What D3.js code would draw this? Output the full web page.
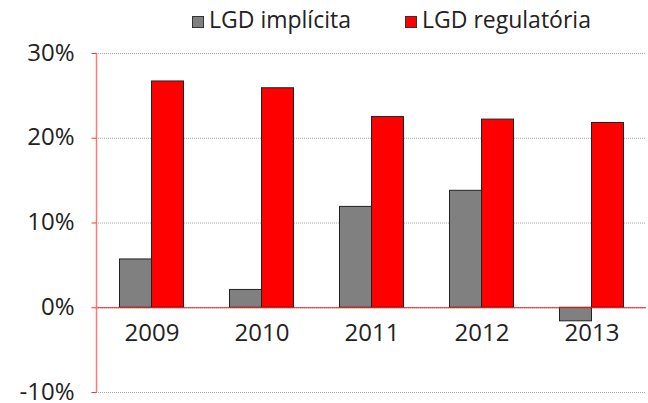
<!DOCTYPE html>
<html><head><meta charset="utf-8">
<script src="https://cdn.jsdelivr.net/npm/d3@7"></script>
<style>body{margin:0;background:#fff}svg{display:block}text{font-family:"Open Sans",sans-serif;fill:#222}</style>
</head><body><svg id="c" width="648" height="403"></svg>
<script>
const categories=["2009","2010","2011","2012","2013"];
const lgdImplicita=[5.7,2.1,11.9,13.8,-1.6];
const lgdRegulatoria=[26.7,25.9,22.5,22.2,21.8];
const seriesNames=["LGD implícita","LGD regulatória"];
const seriesColors=["#808080","#ff0000"];
const yTicks=[-10,0,10,20,30];

const svg=d3.select("#c");
const x0=96,x1=646;
const y=d3.scaleLinear().domain([-10,30]).range([392,53]);
const x=d3.scaleBand().domain(categories).range([x0,x1]);
const barW=32;

// gridlines
svg.append("g").selectAll("line").data(yTicks).join("line")
 .attr("x1",x0).attr("x2",x1).attr("y1",d=>y(d)+0.5).attr("y2",d=>y(d)+0.5)
 .attr("stroke","#aaa").attr("stroke-width",1).attr("stroke-dasharray","1,1");

const data=categories.map((c,i)=>({c,v:[lgdImplicita[i],lgdRegulatoria[i]]}));
const g=svg.append("g");
data.forEach(d=>{
  const cx=x(d.c)+x.bandwidth()/2;
  d.v.forEach((v,j)=>{
    const bx=cx-barW+j*barW;
    g.append("rect").attr("x",bx+0.5).attr("width",barW)
     .attr("y",Math.min(y(v),y(0))).attr("height",Math.abs(y(v)-y(0)))
     .attr("fill",seriesColors[j]).attr("stroke","#222").attr("stroke-width",1);
  });
});

// zero line
svg.append("line").attr("x1",x0).attr("x2",x1).attr("y1",y(0)+0.5).attr("y2",y(0)+0.5).attr("stroke","#e82020").attr("stroke-width",1);
// y axis
const ya=svg.append("g").attr("transform",`translate(${x0+0.5},0)`)
 .call(d3.axisLeft(y).tickValues(yTicks).tickSize(5).tickPadding(17).tickFormat(d=>d+"%"));
ya.select(".domain").attr("stroke","#f77").attr("stroke-width",1.5).attr("d",`M0,${y(30)}V${y(-10)}`);
ya.selectAll(".tick line").attr("stroke","#f33");
ya.selectAll(".tick text").attr("font-size",24).attr("dy","0.3em").style("fill","#222");

// x labels
svg.append("g").selectAll("text").data(categories).join("text")
 .attr("x",d=>x(d)+x.bandwidth()/2+1).attr("y",341).attr("text-anchor","middle")
 .attr("font-size",24).text(d=>d);

// legend
const leg=[{x:192,t:seriesNames[0],c:seriesColors[0]},{x:405,t:seriesNames[1],c:seriesColors[1]}];
leg.forEach(l=>{
  svg.append("rect").attr("x",l.x+0.5).attr("y",16.5).attr("width",11).attr("height",11).attr("fill",l.c).attr("stroke","#333");
  svg.append("text").attr("x",l.x+17).attr("y",28).attr("font-size",23).text(l.t);
});
</script></body></html>
